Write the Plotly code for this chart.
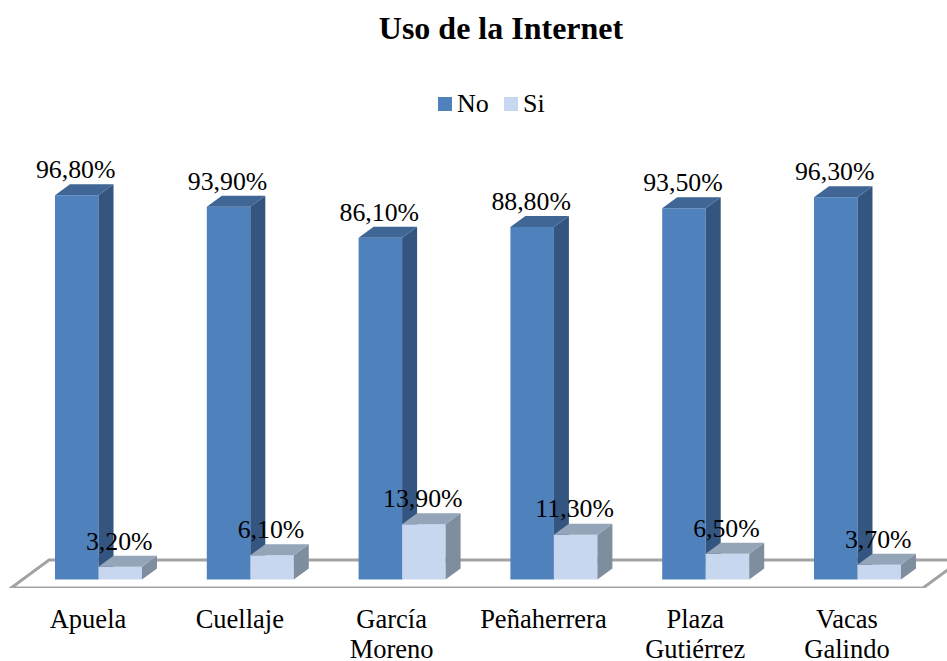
import plotly.graph_objects as go

categories = ["Apuela", "Cuellaje", "García", "Peñaherrera", "Plaza", "Vacas"]
categories_line2 = ["", "", "Moreno", "", "Gutiérrez", "Galindo"]
no_values = [96.8, 93.9, 86.1, 88.8, 93.5, 96.3]
si_values = [3.2, 6.1, 13.9, 11.3, 6.5, 3.7]
no_labels = ["96,80%", "93,90%", "86,10%", "88,80%", "93,50%", "96,30%"]
si_labels = ["3,20%", "6,10%", "13,90%", "11,30%", "6,50%", "3,70%"]

FONT = "Liberation Serif"
# one category = 151.8 px, one percent = 3.97 px
X_RANGE = [-0.5797, 5.6588]
Y_RANGE = [-2.14, 145.97]
DX = 15 / 151.8
DY = 11 / 3.97
BAR_W = 43.5 / 151.8
NO_LEFT = -33 / 151.8
SI_LEFT = NO_LEFT + BAR_W
LABEL_UP = 23.6 / 3.97
NO_COLOR = "#4f81bd"
SI_COLOR = "#c6d7ef"


def side_faces(values, left):
    xs, ys = [], []
    for i, v in enumerate(values):
        r = i + left + BAR_W
        xs += [r, r + DX, r + DX, r, None]
        ys += [0, DY, v + DY, v, None]
    return xs, ys


def top_faces(values, left):
    xs, ys = [], []
    for i, v in enumerate(values):
        l = i + left
        r = l + BAR_W
        xs += [l, r, r + DX, l + DX, None]
        ys += [v, v, v + DY, v + DY, None]
    return xs, ys


def add_block(fig, values, left, name, front, side, top, xaxis, yaxis):
    positions = list(range(len(values)))
    fig.add_trace(go.Bar(x=positions, y=values, width=BAR_W, offset=left, name=name, showlegend=False,
                         marker=dict(color=front, line=dict(width=0)), xaxis=xaxis, yaxis=yaxis))
    xs, ys = side_faces(values, left)
    fig.add_trace(go.Scatter(x=xs, y=ys, mode="lines", fill="toself", fillcolor=side, line=dict(width=0),
                             showlegend=False, hoverinfo="skip", xaxis=xaxis, yaxis=yaxis))
    xs, ys = top_faces(values, left)
    fig.add_trace(go.Scatter(x=xs, y=ys, mode="lines", fill="toself", fillcolor=top, line=dict(width=0),
                             showlegend=False, hoverinfo="skip", xaxis=xaxis, yaxis=yaxis))


def legend_item(fig, x0, text_x, label, color):
    # legend drawn by hand, plotly's own keeps too wide a gap after the swatch
    fig.add_shape(type="rect", xref="paper", yref="paper", x0=x0 / 947, x1=(x0 + 14) / 947,
                  y0=1 - 111 / 588, y1=1 - 97 / 588, fillcolor=color, line=dict(width=0))
    fig.add_annotation(text=label, xref="paper", yref="paper", x=text_x / 947, y=1 - 104 / 588,
                       xanchor="left", yanchor="middle", showarrow=False,
                       font=dict(family=FONT, size=26, color="black"))


fig = go.Figure()

# floor, a shape so that it stays behind the bars
floor_x = [(p - 88) / 151.8 for p in [11, 923, 961, 49]]
floor_y = [(579.5 - p) / 3.97 for p in [588, 588, 560, 560]]
floor_path = "M " + " L ".join(f"{x:.4f},{y:.4f}" for x, y in zip(floor_x, floor_y)) + " Z"
fig.add_shape(type="path", path=floor_path, xref="x", yref="y", layer="below",
              line=dict(color="#a3a3a3", width=3))

add_block(fig, no_values, NO_LEFT, "No", NO_COLOR, "#33557f", "#3f6695", "x", "y")
add_block(fig, si_values, SI_LEFT, "Si", SI_COLOR, "#7f8e9e", "#95a5b9", "x2", "y2")

positions = list(range(len(categories)))
fig.add_trace(go.Scatter(x=[p + NO_LEFT + BAR_W / 2 - 1 / 151.8 for p in positions],
                         y=[v + LABEL_UP for v in no_values], text=no_labels, mode="text",
                         textposition="middle center", textfont=dict(family=FONT, size=25.8, color="black"),
                         showlegend=False, hoverinfo="skip", xaxis="x2", yaxis="y2"))
fig.add_trace(go.Scatter(x=[p + SI_LEFT + BAR_W / 2 - 1 / 151.8 for p in positions],
                         y=[v + LABEL_UP for v in si_values], text=si_labels, mode="text",
                         textposition="middle center", textfont=dict(family=FONT, size=25.8, color="black"),
                         showlegend=False, hoverinfo="skip", xaxis="x2", yaxis="y2"))

legend_item(fig, 438, 455, "No", NO_COLOR)
legend_item(fig, 504, 521, "Si", SI_COLOR)

fig.update_layout(
    width=947, height=661, autosize=False,
    margin=dict(l=0, r=0, t=0, b=73),
    paper_bgcolor="white", plot_bgcolor="white",
    barmode="overlay",
    showlegend=False,
    title=dict(text="<b>Uso de la Internet</b>", x=501 / 947, xanchor="center", y=1 - 28 / 661, yanchor="middle",
               font=dict(family=FONT, size=32, color="black")),
    xaxis=dict(range=X_RANGE, tickmode="array", tickvals=positions, ticktext=categories, automargin=False,
               showgrid=False, zeroline=False, showline=False, ticks="", ticklabelstandoff=12,
               tickfont=dict(family=FONT, size=26.5, color="black")),
    yaxis=dict(range=Y_RANGE, visible=False, automargin=False),
    xaxis2=dict(range=X_RANGE, overlaying="x", tickmode="array", tickvals=positions, ticktext=categories_line2,
                automargin=False, showgrid=False, zeroline=False, showline=False, ticks="", ticklabelstandoff=42,
                tickfont=dict(family=FONT, size=26.5, color="black")),
    yaxis2=dict(range=Y_RANGE, overlaying="y", visible=False, automargin=False),
)

fig.write_html("out.html", config=dict(displayModeBar=False),
               post_script="document.body.style.margin='0';document.body.style.overflow='hidden';")
